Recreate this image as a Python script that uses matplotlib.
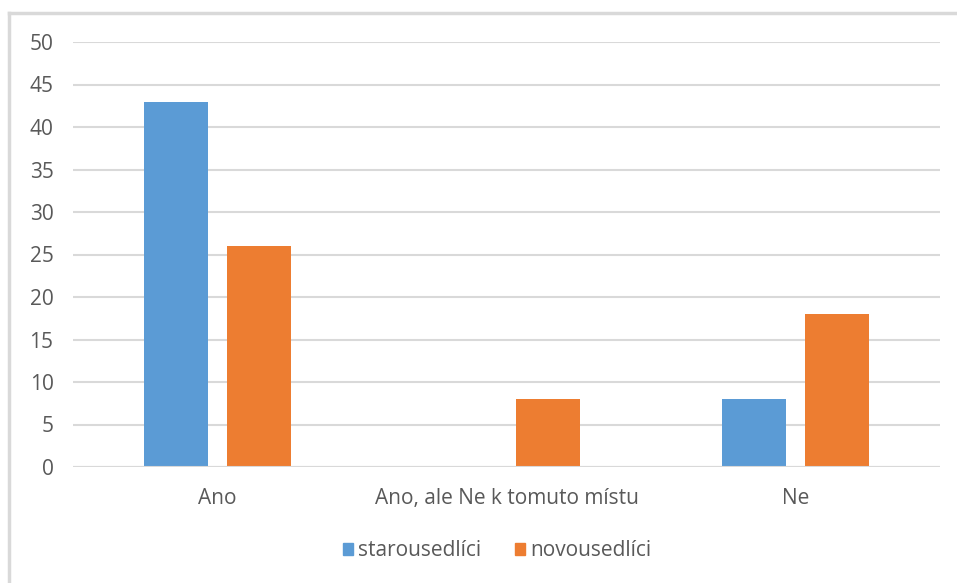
import matplotlib.pyplot as plt
from matplotlib.lines import Line2D
from matplotlib.patches import Patch
import numpy as np

categories = ["Ano", "Ano, ale Ne k tomuto místu", "Ne"]
starousedlici = [43, 0, 8]
novousedlici = [26, 8, 18]
series_names = ["starousedlíci", "novousedlíci"]
yticks = [0, 5, 10, 15, 20, 25, 30, 35, 40, 45, 50]

blue = "#5B9BD5"
orange = "#ED7D31"
grid = "#D9D9D9"
txt = "#595959"

plt.rcParams['font.family'] = ['Open Sans', 'DejaVu Sans']

W, H = 957, 583
fig = plt.figure(figsize=(W/100, H/100), dpi=100)
ax = fig.add_axes([73/W, 1-467/H, (940-73)/W, (467-42)/H])

x = np.arange(len(categories))
bw = 64/289
off = 41.5/289
ax.bar(x - off, starousedlici, bw, color=blue, zorder=3)
ax.bar(x + off, novousedlici, bw, color=orange, zorder=3)

ax.set_xlim(-0.5, 2.5)
ax.set_ylim(0, 50)
ax.set_yticks(yticks)
ax.yaxis.grid(True, color=grid, linewidth=1.5, zorder=0)
ax.set_xticks(x)
ax.set_xticklabels(categories)
ax.tick_params(axis='both', length=0, labelsize=15, colors=txt)
ax.tick_params(axis='y', pad=14)
ax.tick_params(axis='x', pad=15)
for s in ax.spines.values():
    s.set_visible(False)
ax.axhline(0, color=grid, linewidth=1.5, zorder=4)

handles = [Patch(color=blue), Patch(color=orange)]
fig.legend(handles, series_names, loc='center', bbox_to_anchor=(497/W, 1-551/H),
           ncol=2, frameon=False, fontsize=15, labelcolor=txt,
           handlelength=0.5, handleheight=0.5, handletextpad=0.25, columnspacing=1.6)

# outer chart border (partially visible)
fig.add_artist(Line2D([9/W, 1], [1-13/H, 1-13/H], color=grid, linewidth=2.5))
fig.add_artist(Line2D([9/W, 9/W], [0, 1-13/H], color=grid, linewidth=2.5))

fig.savefig("out.png", dpi=100)
